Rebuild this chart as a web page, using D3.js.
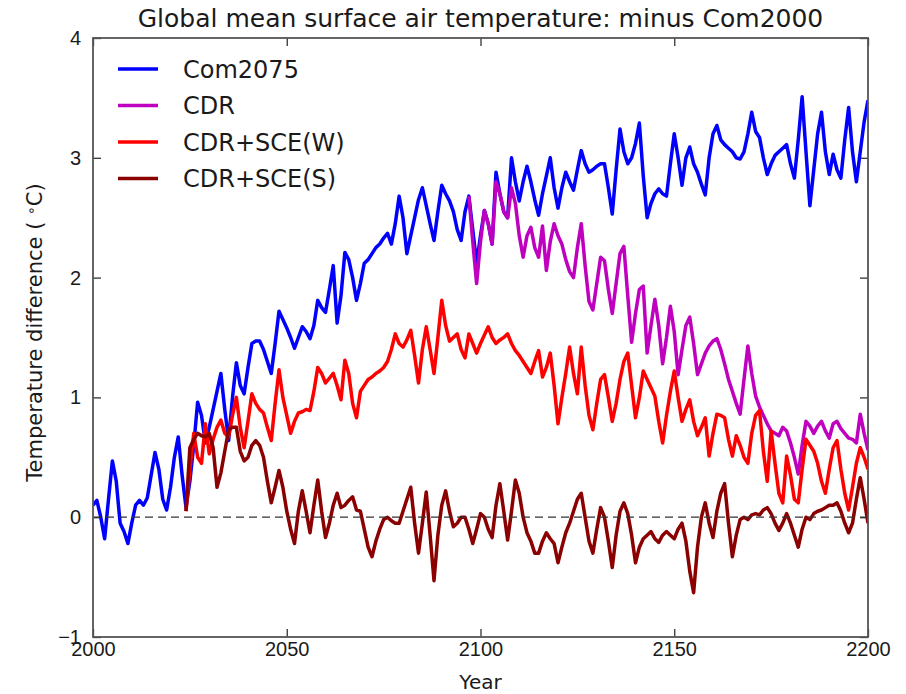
<!DOCTYPE html>
<meta charset="utf-8">
<style>
body { margin: 0; background: #fff; }
svg { font-family: "DejaVu Sans", sans-serif; }
.axis text { font-size: 20px; fill: #1a1a1a; }
.axis path { display: none; }
.axis line { stroke: #333; stroke-width: 1.3px; }
.series { fill: none; stroke-width: 3.5px; stroke-linejoin: round; }
.legend text { font-size: 24px; fill: #1a1a1a; }
</style>
<svg></svg>
<script src="https://d3js.org/d3.v7.min.js"></script>
<script>

// annual values, degC relative to Com2000
var com2075Start = 2000;
var com2075 = [
  0.10, 0.14, 0.00, -0.18, 0.15, 0.47, 0.30, -0.05, -0.12, -0.22,
  -0.05, 0.10, 0.14, 0.10, 0.16, 0.35, 0.54, 0.40, 0.15, 0.06,
  0.25, 0.50, 0.67, 0.35, 0.08, 0.30, 0.60, 0.96, 0.85, 0.62,
  0.75, 0.90, 1.05, 1.20, 0.90, 0.64, 1.00, 1.29, 1.10, 1.03,
  1.25, 1.45, 1.47, 1.47, 1.40, 1.30, 1.20, 1.45, 1.72, 1.65,
  1.58, 1.50, 1.41, 1.50, 1.59, 1.55, 1.49, 1.60, 1.81, 1.75,
  1.71, 1.90, 2.10, 1.62, 1.85, 2.21, 2.15, 2.00, 1.81, 1.95,
  2.12, 2.15, 2.20, 2.25, 2.28, 2.33, 2.37, 2.28, 2.45, 2.68,
  2.50, 2.20, 2.35, 2.50, 2.65, 2.75, 2.60, 2.45, 2.31, 2.55,
  2.77, 2.70, 2.64, 2.55, 2.40, 2.31, 2.55, 2.68, 2.40, 2.12,
  2.35, 2.56, 2.45, 2.28, 2.88, 2.70, 2.55, 2.50, 3.00, 2.80,
  2.64, 2.80, 2.93, 2.80, 2.65, 2.52, 2.70, 2.85, 3.00, 2.75,
  2.58, 2.75, 2.88, 2.80, 2.73, 2.90, 3.06, 2.95, 2.88, 2.90,
  2.93, 2.95, 2.95, 2.75, 2.53, 2.90, 3.24, 3.05, 2.95, 3.00,
  3.12, 3.29, 2.85, 2.50, 2.62, 2.70, 2.74, 2.70, 2.68, 2.95,
  3.20, 3.00, 2.77, 3.00, 3.09, 2.95, 2.88, 2.78, 2.69, 3.00,
  3.20, 3.27, 3.15, 3.11, 3.08, 3.05, 3.00, 2.99, 3.05, 3.20,
  3.38, 3.22, 3.17, 3.00, 2.86, 2.95, 3.02, 3.05, 3.08, 3.11,
  2.95, 2.83, 3.15, 3.51, 3.05, 2.60, 2.90, 3.20, 3.38, 3.05,
  2.86, 3.03, 2.90, 2.83, 3.15, 3.42, 3.05, 2.80, 3.05, 3.30,
  3.48
];

var cdrStart = 2097;
var cdr = [
  2.68, 2.30, 1.95,
  2.30, 2.56, 2.45, 2.28, 2.80, 2.70, 2.55, 2.50, 2.75, 2.62,
  2.35, 2.17, 2.35, 2.42, 2.25, 2.17, 2.43, 2.06, 2.30, 2.45,
  2.35, 2.28, 2.15, 2.05, 2.00, 2.25, 2.45, 2.10, 1.80, 1.73,
  1.95, 2.17, 2.14, 1.90, 1.70, 1.95, 2.20, 2.26, 1.85, 1.46,
  1.70, 1.90, 1.93, 1.37, 1.60, 1.82, 1.60, 1.28, 1.50, 1.76,
  1.55, 1.19, 1.40, 1.60, 1.67, 1.45, 1.19, 1.28, 1.37, 1.43,
  1.47, 1.49, 1.40, 1.28, 1.15, 1.05, 0.95, 0.86, 1.15, 1.43,
  1.20, 1.01, 0.92, 0.85, 0.78, 0.72, 0.70, 0.68, 0.75, 0.72,
  0.62, 0.50, 0.36, 0.60, 0.80, 0.76, 0.70, 0.76, 0.80, 0.72,
  0.66, 0.78, 0.80, 0.74, 0.70, 0.66, 0.65, 0.62, 0.86, 0.70,
  0.56
];

var sceWStart = 2024;
var sceW = [
  0.05, 0.40, 0.70, 0.50, 0.45, 0.78,
  0.53, 0.65, 0.75, 0.81, 0.70, 0.67, 0.85, 1.00, 0.75, 0.58,
  0.80, 1.03, 0.95, 0.90, 0.87, 0.75, 0.64, 0.95, 1.23, 1.00,
  0.85, 0.70, 0.80, 0.87, 0.88, 0.90, 0.89, 1.05, 1.25, 1.20,
  1.12, 1.16, 1.20, 1.10, 0.98, 1.31, 1.20, 0.95, 0.83, 1.05,
  1.10, 1.15, 1.17, 1.20, 1.22, 1.25, 1.30, 1.40, 1.53, 1.45,
  1.42, 1.48, 1.56, 1.35, 1.12, 1.40, 1.59, 1.40, 1.20, 1.50,
  1.81, 1.60, 1.47, 1.50, 1.53, 1.40, 1.33, 1.53, 1.45, 1.37,
  1.45, 1.52, 1.59, 1.50, 1.45, 1.48, 1.50, 1.53, 1.45, 1.39,
  1.35, 1.30, 1.25, 1.20, 1.30, 1.39, 1.17, 1.25, 1.37, 1.10,
  0.78, 1.00, 1.20, 1.42, 1.20, 1.03, 1.42, 1.10, 0.85, 0.73,
  0.95, 1.15, 1.19, 1.00, 0.80, 0.95, 1.15, 1.30, 1.37, 1.10,
  0.83, 1.00, 1.22, 1.15, 1.08, 1.01, 0.80, 0.62, 0.85, 1.05,
  1.22, 1.00, 0.80, 0.90, 0.98, 0.80, 0.68, 0.75, 0.83, 0.51,
  0.70, 0.86, 0.85, 0.83, 0.65, 0.51, 0.68, 0.60, 0.50, 0.45,
  0.70, 0.85, 0.89, 0.55, 0.30, 0.72, 0.45, 0.20, 0.12, 0.51,
  0.35, 0.15, 0.12, 0.40, 0.65, 0.60, 0.55, 0.45, 0.30, 0.20,
  0.40, 0.58, 0.64, 0.40, 0.20, 0.06, 0.25, 0.45, 0.58, 0.50,
  0.40
];

var sceSStart = 2024;
var sceS = [
  0.05, 0.58, 0.65, 0.70, 0.68, 0.67,
  0.70, 0.58, 0.25, 0.37, 0.55, 0.73, 0.75, 0.75, 0.55, 0.47,
  0.50, 0.60, 0.64, 0.60, 0.50, 0.30, 0.12, 0.25, 0.39, 0.25,
  0.05, -0.10, -0.22, 0.05, 0.22, 0.05, -0.13, 0.10, 0.31, 0.05,
  -0.17, -0.05, 0.10, 0.20, 0.08, 0.10, 0.14, 0.17, 0.06, 0.05,
  -0.10, -0.25, -0.33, -0.20, -0.10, -0.02, 0.00, -0.03, -0.05, -0.05,
  0.05, 0.15, 0.25, -0.05, -0.30, -0.05, 0.21, -0.15, -0.53, -0.15,
  0.10, 0.22, 0.05, -0.08, -0.05, 0.00, 0.00, -0.10, -0.22, -0.10,
  0.03, 0.00, -0.10, -0.17, 0.10, 0.28, 0.05, -0.19, 0.05, 0.31,
  0.20, 0.00, -0.13, -0.20, -0.30, -0.30, -0.20, -0.13, -0.18, -0.22,
  -0.38, -0.25, -0.13, -0.05, 0.05, 0.15, 0.20, 0.00, -0.20, -0.30,
  -0.10, 0.08, 0.00, -0.20, -0.42, -0.15, 0.05, 0.12, 0.03, -0.15,
  -0.38, -0.25, -0.18, -0.15, -0.12, -0.18, -0.21, -0.15, -0.12, -0.15,
  -0.18, -0.10, -0.05, -0.20, -0.45, -0.63, -0.25, 0.00, 0.12, -0.05,
  -0.17, 0.05, 0.20, 0.28, -0.05, -0.33, -0.15, -0.02, 0.00, -0.02,
  0.02, 0.03, 0.02, 0.06, 0.08, 0.03, -0.05, -0.11, -0.05, 0.03,
  -0.05, -0.15, -0.25, -0.10, 0.00, -0.02, 0.03, 0.05, 0.06, 0.08,
  0.10, 0.10, 0.12, 0.05, -0.05, -0.13, -0.05, 0.15, 0.33, 0.15,
  -0.05
];

var seriesNames = ['Com2075', 'CDR', 'CDR+SCE(W)', 'CDR+SCE(S)'];
var seriesColors = ['#0000ff', '#bf00bf', '#ff0000', '#8b0000'];
var seriesData = [
  { start: com2075Start, values: com2075 },
  { start: cdrStart, values: cdr },
  { start: sceWStart, values: sceW },
  { start: sceSStart, values: sceS }
];

var xTicks = [2000, 2050, 2100, 2150, 2200];
var yTicks = [-1, 0, 1, 2, 3, 4];

var margin = { top: 38, right: 38, bottom: 57, left: 93 };
var width = 906 - margin.left - margin.right;
var height = 694 - margin.top - margin.bottom;

var x = d3.scaleLinear().domain([2000, 2200]).range([0, width]);
var y = d3.scaleLinear().domain([-1, 4]).range([height, 0]);

var svg = d3.select('svg')
  .attr('width', 906)
  .attr('height', 694);

var g = svg.append('g')
  .attr('transform', 'translate(' + margin.left + ',' + margin.top + ')');

g.append('clipPath').attr('id', 'plot-clip')
  .append('rect').attr('width', width).attr('height', height);

// axes, ticks pointing inward on all four sides
g.append('g').attr('class', 'axis')
  .attr('transform', 'translate(0,' + height + ')')
  .call(d3.axisBottom(x).tickValues(xTicks).tickFormat(d3.format('d')).tickSize(-8).tickPadding(5));

g.append('g').attr('class', 'axis')
  .call(d3.axisTop(x).tickValues(xTicks).tickFormat('').tickSize(-8));

g.append('g').attr('class', 'axis')
  .call(d3.axisLeft(y).tickValues(yTicks).tickFormat(d3.format('d')).tickSize(-8).tickPadding(12));

g.append('g').attr('class', 'axis')
  .attr('transform', 'translate(' + width + ',0)')
  .call(d3.axisRight(y).tickValues(yTicks).tickFormat('').tickSize(-8));

g.selectAll('.axis text').text(function () {
  return this.textContent.replace('-', '\u2212');
});

var line = d3.line()
  .x(function (d) { return x(d.year); })
  .y(function (d) { return y(d.value); });

var plot = g.append('g').attr('clip-path', 'url(#plot-clip)');

seriesData.forEach(function (s, i) {
  var pts = s.values.map(function (v, k) { return { year: s.start + k, value: v }; });
  plot.append('path')
    .attr('class', 'series')
    .attr('stroke', seriesColors[i])
    .attr('d', line(pts));
});

plot.append('line')
  .attr('x1', 0).attr('x2', width)
  .attr('y1', y(0)).attr('y2', y(0))
  .attr('stroke', '#333')
  .attr('stroke-width', 1.2)
  .attr('stroke-dasharray', '8,5');

g.append('rect')
  .attr('width', width).attr('height', height)
  .attr('fill', 'none')
  .attr('stroke', '#555')
  .attr('stroke-width', 1.8);

// legend
var legend = g.append('g').attr('class', 'legend');
seriesNames.forEach(function (name, i) {
  var ly = 31 + i * 36.5;
  legend.append('line')
    .attr('x1', 25).attr('x2', 65)
    .attr('y1', ly).attr('y2', ly)
    .attr('stroke', seriesColors[i])
    .attr('stroke-width', 3.5);
  legend.append('text')
    .attr('x', 90).attr('y', ly)
    .attr('dy', '0.36em')
    .text(name);
});

svg.append('text')
  .attr('x', margin.left + width / 2)
  .attr('y', 27)
  .attr('text-anchor', 'middle')
  .attr('font-size', '25px')
  .attr('fill', '#1a1a1a')
  .text('Global mean surface air temperature: minus Com2000');

svg.append('text')
  .attr('x', margin.left + width / 2)
  .attr('y', 689)
  .attr('text-anchor', 'middle')
  .attr('font-size', '20px')
  .attr('fill', '#1a1a1a')
  .text('Year');

var ylab = svg.append('text')
  .attr('transform', 'translate(42,' + (margin.top + height / 2 - 5) + ') rotate(-90)')
  .attr('text-anchor', 'middle')
  .attr('font-size', '21px')
  .attr('fill', '#1a1a1a');
ylab.append('tspan').text('Temperature difference ( ');
ylab.append('tspan').attr('font-size', '14px').attr('dy', '-0.45em').text('\u2218');
ylab.append('tspan').attr('dy', '0.3em').text('C)');

</script>
